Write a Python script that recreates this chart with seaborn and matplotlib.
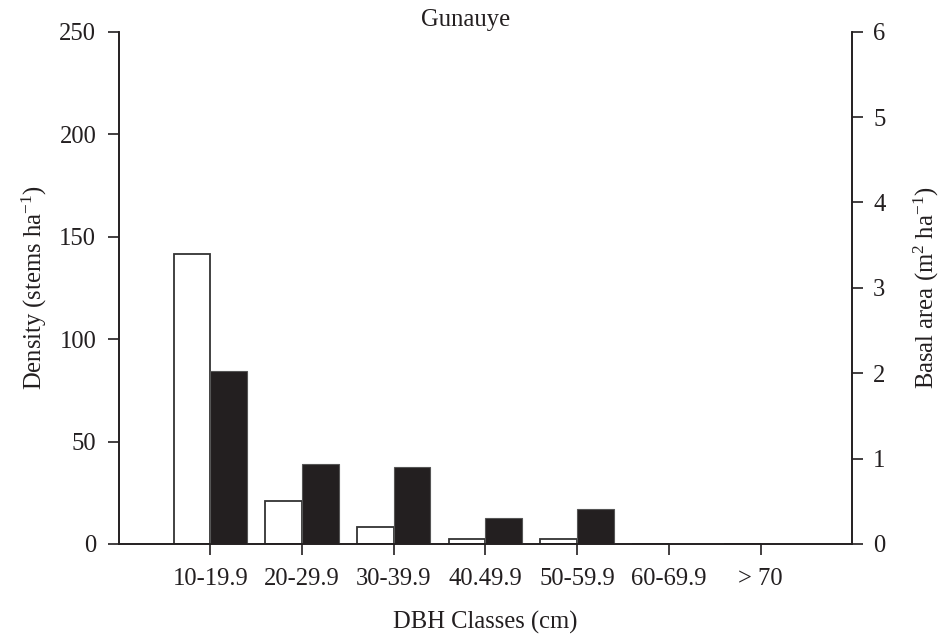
import numpy as np
import pandas as pd
import matplotlib
matplotlib.use("Agg")
import matplotlib.pyplot as plt
import seaborn as sns

categories = ["10-19.9", "20-29.9", "30-39.9", "40.49.9", "50-59.9", "60-69.9", "> 70"]
density = [141.5, 21, 8.3, 2.3, 2.3, 0, 0]          # stems ha-1 (left axis)
basal_area = [2.03, 0.94, 0.90, 0.30, 0.41, 0, 0]   # m2 ha-1 (right axis)
density_ticks = [0, 50, 100, 150, 200, 250]
basal_ticks = [0, 1, 2, 3, 4, 5, 6]
title = "Gunauye"

sns.set_theme(style="white")
plt.rcParams["font.family"] = ["Liberation Serif", "DejaVu Serif"]
plt.rcParams["mathtext.fontset"] = "custom"
plt.rcParams["mathtext.rm"] = "Liberation Serif"
plt.rcParams["mathtext.it"] = "Liberation Serif:italic"
plt.rcParams["mathtext.bf"] = "Liberation Serif:bold"

INK = "#231f20"
FS = 17.7

fig = plt.figure(figsize=(9.42, 6.38), dpi=100)
ax = fig.add_axes([118.5 / 942, 1 - 544 / 638, (852.3 - 118.5) / 942, (544 - 31.7) / 638])
ax2 = ax.twinx()

pos = np.arange(len(categories))
df = pd.DataFrame({"pos": pos, "cat": categories, "density": density, "basal": basal_area})

sns.barplot(x=df["pos"] - 0.2, y=df["density"], native_scale=True, width=0.4,
            color="white", edgecolor="#333333", linewidth=1.3, saturation=1,
            ax=ax, errorbar=None)
sns.barplot(x=df["pos"] + 0.2, y=df["basal"], native_scale=True, width=0.4,
            color=INK, edgecolor="#555555", linewidth=0.8, saturation=1,
            ax=ax2, errorbar=None)

for a in (ax, ax2):
    for s in a.spines.values():
        s.set_color(INK)
        s.set_linewidth(1.2)
    a.spines["top"].set_visible(False)
    a.grid(False)
    a.set_facecolor("none")

ax.set_ylim(0, 250)
ax.set_yticks(density_ticks)
ax2.set_ylim(0, 6)
ax2.set_yticks(basal_ticks)

ax.set_xlim(-1, 7)
ax.set_xticks(pos)
ax.set_xticklabels(categories)

ax.tick_params(axis="both", direction="out", length=8, width=1.2, color=INK,
               labelsize=FS, labelcolor=INK)
ax.tick_params(axis="x", pad=9, bottom=True, labelbottom=True)
ax.tick_params(axis="y", pad=8, left=True)
ax2.tick_params(axis="y", direction="out", length=8, width=1.2, color=INK,
                labelsize=FS, labelcolor=INK, pad=7, right=True)
ax2.tick_params(axis="x", bottom=False, top=False, labeltop=False)

ax.set_xlabel("DBH Classes (cm)", fontsize=FS, color=INK, labelpad=15)
ax.set_ylabel(r"Density (stems ha$^{-1}$)", fontsize=FS, color=INK, labelpad=7.5)
ax2.set_ylabel(r"Basal area (m$^{2}$ ha$^{-1}$)", fontsize=FS, color=INK, labelpad=19)

fig.text(466 / 942, 1 - 20 / 638, title, ha="center", va="center", fontsize=FS, color=INK)

fig.savefig("out.png", dpi=100)
